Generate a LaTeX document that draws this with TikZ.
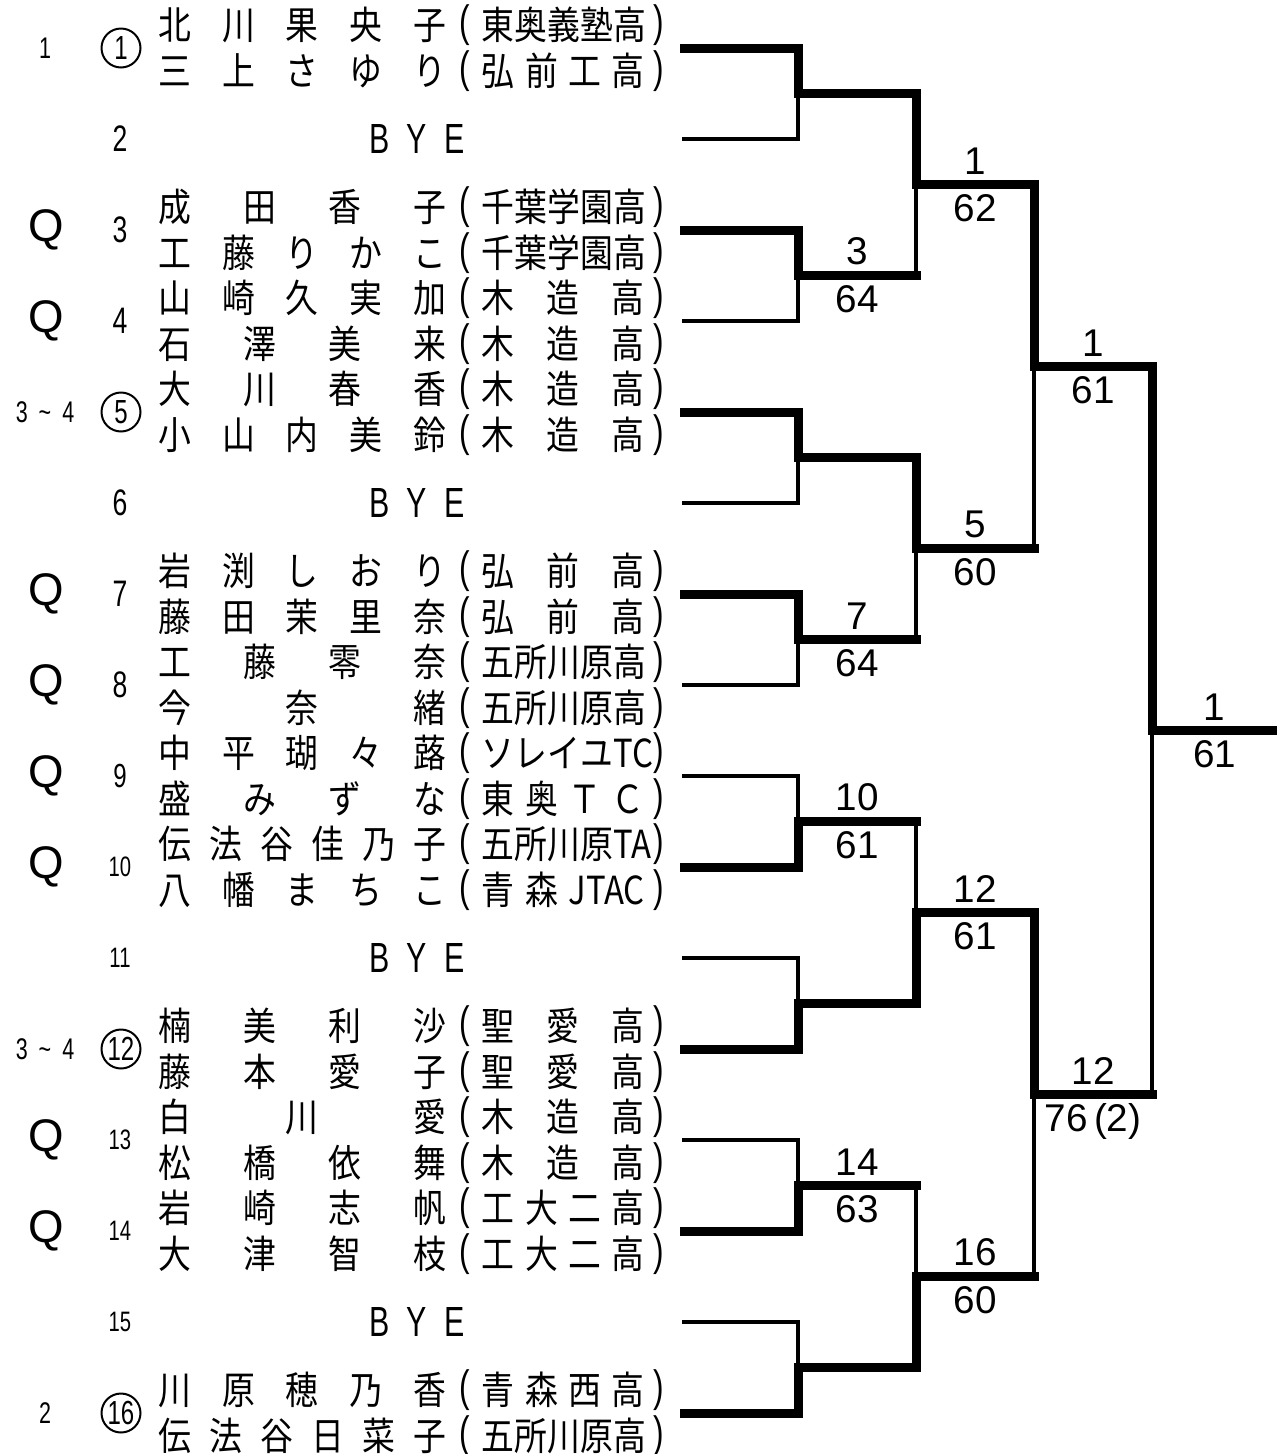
\documentclass[tikz,border=0pt]{standalone}
\usepackage{fontspec}
\setmainfont{Liberation Sans}
\newfontfamily\jpfont[FakeStretch=0.85]{Noto Sans CJK JP}
\newfontfamily\narrowfont[FakeStretch=0.72]{Liberation Sans}
\usetikzlibrary{calc}
\newcommand{\spreadbox}[2]{\makebox[#1][s]{\spaceskip=0pt plus 1fil\xspaceskip=0pt plus 1fil\relax #2}}
\newcommand{\lpar}{\raisebox{1.9pt}{\narrowfont\fontsize{25pt}{25pt}\selectfont(}}
\newcommand{\rpar}{\raisebox{1.9pt}{\narrowfont\fontsize{25pt}{25pt}\selectfont)}}
\tikzset{
  namecell/.style={anchor=west, inner sep=0pt, text height=18.3pt, text depth=1.5pt,
    font=\jpfont\fontsize{22pt}{22pt}\selectfont},
  byecell/.style={inner sep=0pt, font=\narrowfont\fontsize{24pt}{24pt}\selectfont},
  slotno/.style={inner sep=0pt, font=\narrowfont\fontsize{21pt}{21pt}\selectfont},
  slotsmall/.style={inner sep=0pt, font=\narrowfont\fontsize{16pt}{16pt}\selectfont},
  rankno/.style={inner sep=0pt, font=\narrowfont\fontsize{17pt}{17pt}\selectfont},
  qmark/.style={inner sep=0pt, font=\fontsize{26pt}{26pt}\selectfont},
  seedmark/.style={circle, draw, line width=0.04cm, inner sep=0pt, minimum size=0.78cm,
    font=\narrowfont\fontsize{19pt}{19pt}\selectfont},
  winno/.style={anchor=south, yshift=0.2cm, inner sep=0pt,
    font=\fontsize{22pt}{22pt}\selectfont},
  scoreno/.style={anchor=north, yshift=-0.17cm, inner sep=0pt, text height=16pt,
    text depth=0pt, font=\fontsize{22pt}{22pt}\selectfont},
  win/.style={line width=0.18cm, line cap=rect},
  lose/.style={line width=0.066cm, line cap=rect}
}

\begin{document}
\begin{tikzpicture}[x=0.02cm, y=-0.02cm]
  \fill[white] (0,0) rectangle (1277,1454);
  \useasboundingbox (0,0) rectangle (1277,1454);

  % draw slots and match points
  \foreach \k in {1,...,16} {
    \pgfmathsetmacro\yy{48+(\k-1)*91}
    \coordinate (e\k) at (684,\yy);
    \coordinate (a\k) at (798,\yy);
  }
  \foreach \ma in {1,...,8} {
    \pgfmathsetmacro\yy{48+(2*\ma-1.5)*91}
    \coordinate (m1-\ma) at (798,\yy);
    \coordinate (o1-\ma) at (916,\yy);
  }
  \foreach \ma in {1,...,4} {
    \pgfmathsetmacro\yy{48+(4*\ma-2.5)*91}
    \coordinate (m2-\ma) at (916,\yy);
    \coordinate (o2-\ma) at (1034,\yy);
  }
  \foreach \ma in {1,2} {
    \pgfmathsetmacro\yy{48+(8*\ma-4.5)*91}
    \coordinate (m3-\ma) at (1034,\yy);
    \coordinate (o3-\ma) at (1152,\yy);
  }
  \coordinate (m4) at (1152,730.5);
  \coordinate (o4) at (1277,730.5);

  % first round
  \foreach \ma/\wi/\lo in {1/1/2, 2/3/4, 3/5/6, 4/7/8, 5/10/9, 6/12/11, 7/14/13, 8/16/15} {
    \draw[lose] (e\lo) -- (a\lo) -- (m1-\ma);
    \draw[win] (e\wi) -- (a\wi) -- (m1-\ma) -- (o1-\ma);
  }
  % second round
  \foreach \ma/\wi/\lo in {1/1/2, 2/3/4, 3/6/5, 4/8/7} {
    \draw[lose] (o1-\lo) -- (m2-\ma);
    \draw[win] (o1-\wi) -- (m2-\ma) -- (o2-\ma);
  }
  % semi finals
  \foreach \ma/\wi/\lo in {1/1/2, 2/3/4} {
    \draw[lose] (o2-\lo) -- (m3-\ma);
    \draw[win] (o2-\wi) -- (m3-\ma) -- (o3-\ma);
  }
  % final
  \draw[lose] (o3-2) -- (m4);
  \draw[win] (o3-1) -- (m4) -- (o4);

  % winners and scores
  \foreach \r/\ma/\wi/\sc in {1/2/3/64, 1/4/7/64, 1/5/10/61, 1/7/14/63,
      2/1/1/62, 2/2/5/60, 2/3/12/61, 2/4/16/60, 3/1/1/61, 3/2/12/{76\,(2)}} {
    \node[winno] (w\r-\ma) at ($(m\r-\ma)!0.5!(o\r-\ma)$) {\wi};
    \node[scoreno] (s\r-\ma) at ($(m\r-\ma)!0.5!(o\r-\ma)$) {\sc};
  }
  \node[winno] (w4) at ($(m4)!0.5!(o4)$) {1};
  \node[scoreno] (s4) at ($(m4)!0.5!(o4)$) {61};

  % players
  \foreach \k/\na/\sa/\nb/\sb in {
      1/{北 川 果 央 子}/{東 奥 義 塾 高}/{三 上 さ ゆ り}/{弘 前 工 高},
      3/{成 田 香 子}/{千 葉 学 園 高}/{工 藤 り か こ}/{千 葉 学 園 高},
      4/{山 崎 久 実 加}/{木 造 高}/{石 澤 美 来}/{木 造 高},
      5/{大 川 春 香}/{木 造 高}/{小 山 内 美 鈴}/{木 造 高},
      7/{岩 渕 し お り}/{弘 前 高}/{藤 田 茉 里 奈}/{弘 前 高},
      8/{工 藤 零 奈}/{五 所 川 原 高}/{今 奈 緒}/{五 所 川 原 高},
      9/{中 平 瑚 々 蕗}/{ソ レ イ ユ TC}/{盛 み ず な}/{東 奥 Ｔ Ｃ},
      10/{伝 法 谷 佳 乃 子}/{五 所 川 原 TA}/{八 幡 ま ち こ}/{青 森 JTAC},
      12/{楠 美 利 沙}/{聖 愛 高}/{藤 本 愛 子}/{聖 愛 高},
      13/{白 川 愛}/{木 造 高}/{松 橋 依 舞}/{木 造 高},
      14/{岩 崎 志 帆}/{工 大 二 高}/{大 津 智 枝}/{工 大 二 高},
      16/{川 原 穂 乃 香}/{青 森 西 高}/{伝 法 谷 日 菜 子}/{五 所 川 原 高}} {
    \pgfmathsetmacro\yy{48+(\k-1)*91}
    \node[namecell] (na\k) at (158,\yy-23) {\spreadbox{5.76cm}{\na}};
    \node[namecell] (sa\k) at (459,\yy-23) {\lpar\hspace{0.24cm}\spreadbox{3.26cm}{\sa}\hspace{0.18cm}\rpar};
    \node[namecell] (nb\k) at (158,\yy+23) {\spreadbox{5.76cm}{\nb}};
    \node[namecell] (sb\k) at (459,\yy+23) {\lpar\hspace{0.24cm}\spreadbox{3.26cm}{\sb}\hspace{0.18cm}\rpar};
  }
  \foreach \k in {2,6,11,15}
    \node[byecell] (bye\k) at (417,{48+(\k-1)*91}) {\spreadbox{1.9cm}{B Y E}};

  % left columns
  \foreach \k in {2,3,4,6,7,8}
    \node[slotno] (no\k) at (120,{48+(\k-1)*91}) {\k};
  \node[slotno, font=\narrowfont\fontsize{19pt}{19pt}\selectfont] (no9) at (120,776) {9};
  \foreach \k in {10,11,13,14,15}
    \node[slotsmall] (no\k) at (120,{48+(\k-1)*91}) {\k};
  \foreach \k in {3,4,7,8,9,10,13,14}
    \node[qmark] (q\k) at (46,{48+(\k-1)*91}) {Q};
  \foreach \k/\rk in {1/1, 5/{3\hspace{0.22cm}\textasciitilde\hspace{0.22cm}4},
      12/{3\hspace{0.22cm}\textasciitilde\hspace{0.22cm}4}, 16/2} {
    \node[seedmark] (seed\k) at (121,{48+(\k-1)*91}) {\k};
    \node[rankno] (rank\k) at (45,{48+(\k-1)*91}) {\rk};
  }
\end{tikzpicture}
\end{document}
